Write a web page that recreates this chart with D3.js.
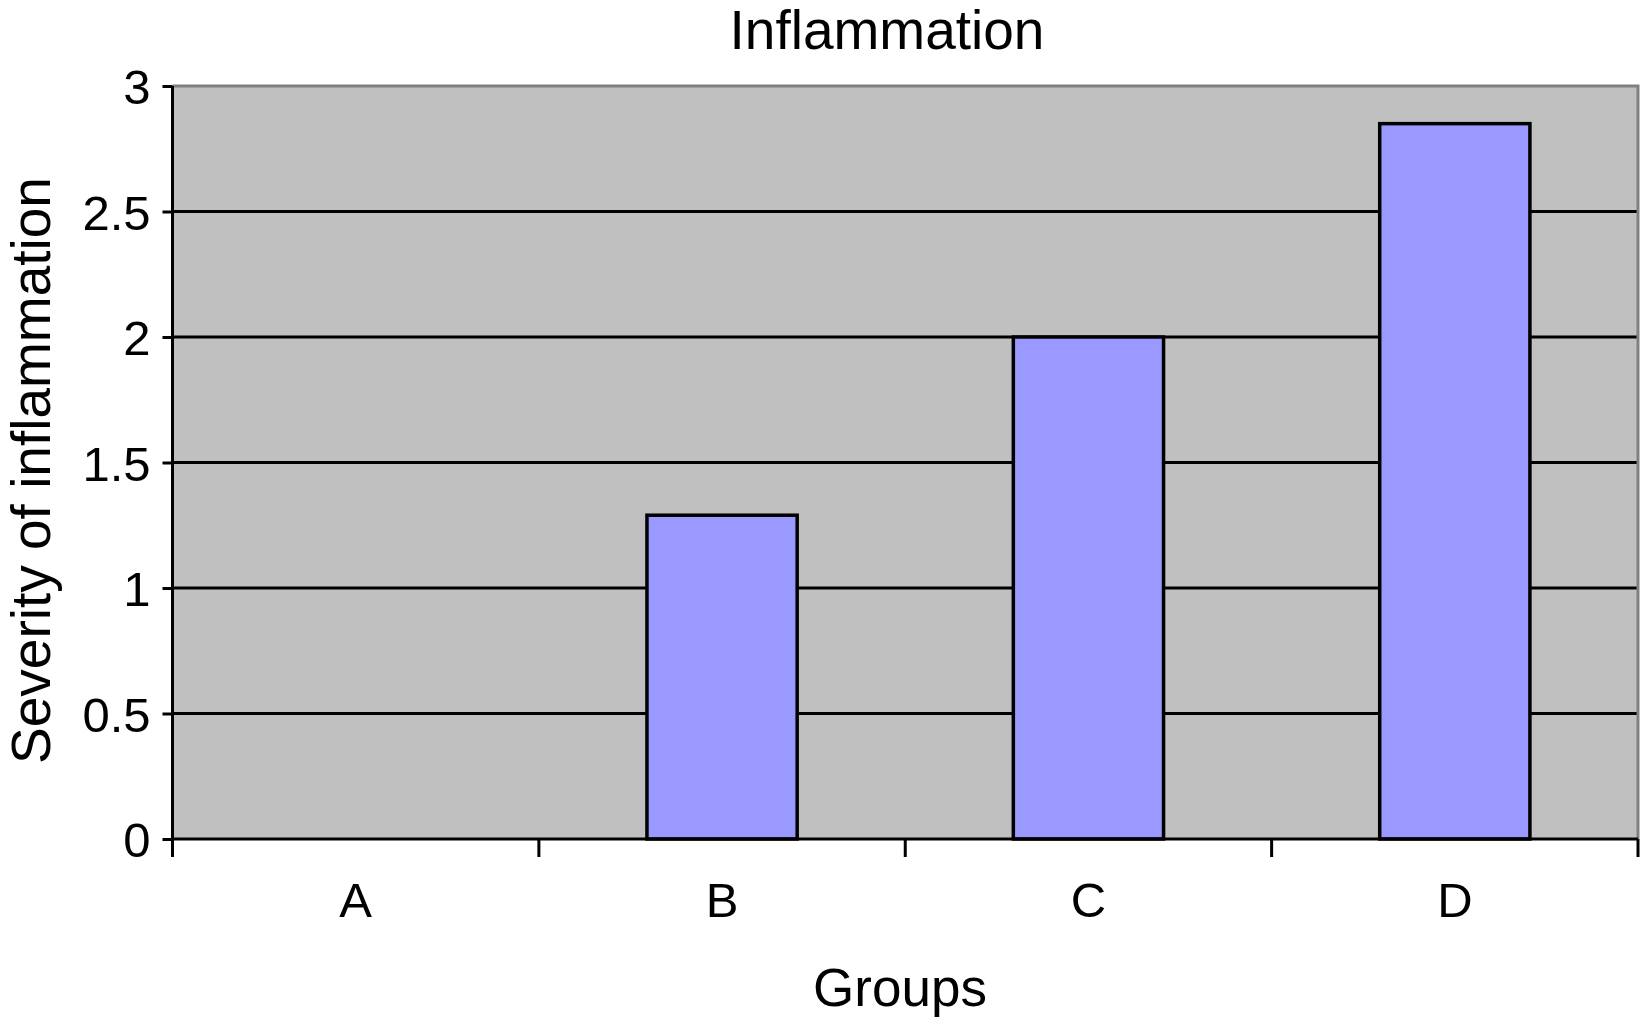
<!DOCTYPE html>
<html>
<head>
<meta charset="utf-8">
<script src="https://cdn.jsdelivr.net/npm/d3@7"></script>
<style>
  html, body { margin: 0; padding: 0; background: #ffffff; }
  svg { display: block; }
  text { font-family: "Liberation Sans", Arial, sans-serif; fill: #000; }
</style>
</head>
<body>
<svg id="chart" width="1647" height="1022"></svg>
<script>
const categories = ["A", "B", "C", "D"];
const values = [0, 1.29, 2.0, 2.85];
const yTicks = [0, 0.5, 1, 1.5, 2, 2.5, 3];
const yTickLabels = ["0", "0.5", "1", "1.5", "2", "2.5", "3"];
const titleText = "Inflammation";
const xLabel = "Groups";
const yLabel = "Severity of inflammation";

const svg = d3.select("#chart");
const m = { left: 172.5, right: 1638, top: 86, bottom: 839 };

const x = d3.scaleBand().domain(categories).range([m.left, m.right]).paddingInner(0).paddingOuter(0);
const y = d3.scaleLinear().domain([0, 3]).range([m.bottom, m.top]);

// plot background
svg.append("rect")
  .attr("x", m.left).attr("y", m.top)
  .attr("width", m.right - m.left).attr("height", m.bottom - m.top)
  .attr("fill", "#c0c0c0");

// gridlines
svg.append("g").selectAll("line")
  .data(yTicks.filter(d => d > 0 && d < 3))
  .join("line")
  .attr("x1", m.left).attr("x2", m.right)
  .attr("y1", d => y(d)).attr("y2", d => y(d))
  .attr("stroke", "#000").attr("stroke-width", 3);

// top and right border (gray)
svg.append("path")
  .attr("d", `M${m.left},${y(3)}H${m.right}V${m.bottom}`)
  .attr("fill", "none").attr("stroke", "#808080").attr("stroke-width", 3);

// bars
const bw = x.bandwidth() * 0.41;
svg.append("g").selectAll("rect")
  .data(categories.map((c, i) => ({ c, v: values[i] })).filter(d => d.v > 0))
  .join("rect")
  .attr("x", d => x(d.c) + x.bandwidth() / 2 - bw / 2)
  .attr("width", bw)
  .attr("y", d => y(d.v))
  .attr("height", d => y(0) - y(d.v))
  .attr("fill", "#9999ff")
  .attr("stroke", "#000").attr("stroke-width", 3.5);

// y axis
const yAxis = d3.axisLeft(y).tickValues(yTicks)
  .tickFormat((d, i) => yTickLabels[i]).tickSize(10).tickPadding(12);
const gy = svg.append("g").attr("transform", `translate(${m.left},0)`).call(yAxis);
gy.select(".domain").attr("stroke", "#000").attr("stroke-width", 3)
  .attr("d", `M0,${m.bottom + 18}V${m.top}`);
gy.selectAll(".tick line").attr("stroke", "#000").attr("stroke-width", 3);
gy.selectAll(".tick text").style("font-size", "49px")
  .style("font-family", "Liberation Sans, Arial, sans-serif").attr("fill", "#000")
  .attr("dy", "0.36em");

// x axis
const xAxis = d3.axisBottom(x).tickSize(0).tickPadding(0);
const gx = svg.append("g").attr("transform", `translate(0,${m.bottom})`).call(xAxis);
gx.select(".domain").attr("stroke", "#000").attr("stroke-width", 3)
  .attr("d", `M${m.left},0H${m.right}`);
gx.selectAll(".tick line").remove();
gx.selectAll(".tick text").attr("y", 78).attr("dy", 0)
  .style("font-size", "49px").style("font-family", "Liberation Sans, Arial, sans-serif")
  .attr("fill", "#000");
// boundary ticks between categories
const bounds = categories.map(c => x(c)).slice(1).concat([m.right]);
gx.append("g").selectAll("line").data(bounds).join("line")
  .attr("x1", d => d).attr("x2", d => d)
  .attr("y1", 0).attr("y2", 18)
  .attr("stroke", "#000").attr("stroke-width", 3);

// title
svg.append("text")
  .attr("x", 887).attr("y", 49)
  .attr("text-anchor", "middle")
  .style("font-size", "55px")
  .text(titleText);

// x label
svg.append("text")
  .attr("x", 900).attr("y", 1006)
  .attr("text-anchor", "middle")
  .style("font-size", "53px")
  .text(xLabel);

// y label
svg.append("text")
  .attr("transform", `translate(50,${(m.top + m.bottom) / 2 + 8}) rotate(-90)`)
  .attr("text-anchor", "middle")
  .style("font-size", "55px")
  .text(yLabel);
</script>
</body>
</html>
